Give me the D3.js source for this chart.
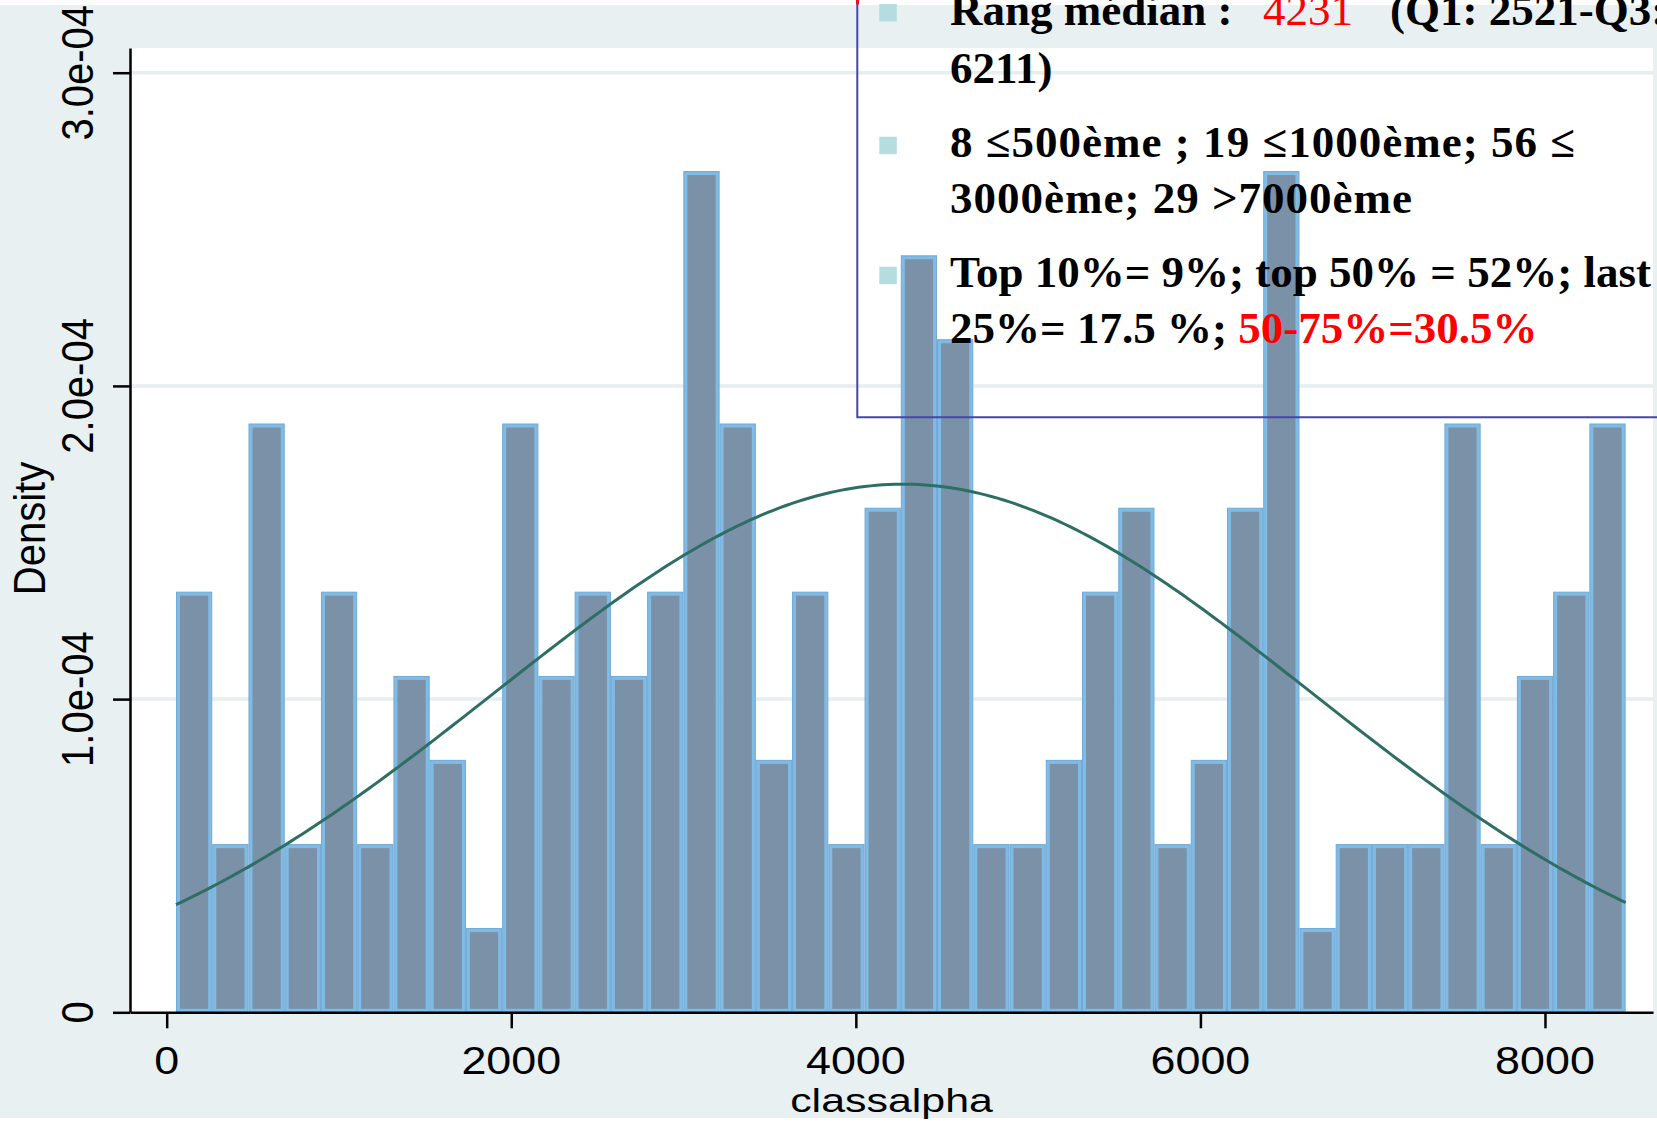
<!DOCTYPE html>
<html><head><meta charset="utf-8">
<script src="https://cdn.jsdelivr.net/npm/d3@7"></script>
<style>body{margin:0;background:#fff} svg{display:block}</style>
</head><body>
<script>
// ---- data ----
const binStart = 54;          // left edge of first bin (classalpha units)
const binWidth = 210.35;      // width of each bin
const densityE4 = [1.343,0.537,1.880,0.537,1.343,0.537,1.074,0.806,0.269,1.880,
  1.074,1.343,1.074,1.343,2.686,1.880,0.806,1.343,0.537,1.611,
  2.417,2.149,0.537,0.537,0.806,1.343,1.611,0.537,0.806,1.611,
  2.686,0.269,0.537,0.537,0.537,1.880,0.537,1.074,1.343,1.880]; // density ×1e-4
const normalMean = 4274, normalSD = 2366;   // overlaid normal density
const xTicks = [0, 2000, 4000, 6000, 8000];
const yTicks = [0, 1e-4, 2e-4, 3e-4];
const yTickLabels = ["0", "1.0e-04", "2.0e-04", "3.0e-04"];
const xTitle = "classalpha", yTitle = "Density";
const legendLines = [
  [{t:"Rang médian : ", c:"#000", w:"bold"}],
  [{t:"6211)", c:"#000", w:"bold"}],
  [{t:"8 ≤500ème ; 19 ≤1000ème; 56 ≤", c:"#000", w:"bold"}],
  [{t:"3000ème; 29 >7000ème", c:"#000", w:"bold"}],
  [{t:"Top 10%= 9%; top 50% = 52%; last", c:"#000", w:"bold"}],
  [{t:"25%= 17.5 %; ", c:"#000", w:"bold"}, {t:"50-75%=30.5%", c:"#ff0000", w:"bold"}]
];
const legendLineWidths = [null, null, 625, 462, null, null];

// ---- layout ----
const W = 1657, H = 1122;
const plot = {l:130, r:1653, t:48, b:1012.3};
const svg = d3.select("body").append("svg").attr("width", W).attr("height", H);
const sans = "'Liberation Sans', Arial, sans-serif";
const serif = "'Liberation Serif', 'Times New Roman', serif";

const x = d3.scaleLinear().domain([-213, 8627]).range([plot.l, plot.r]);
const y = d3.scaleLinear().domain([0, 3.0789e-4]).range([plot.b, plot.t]);

// backgrounds
svg.append("rect").attr("width", W).attr("height", H).attr("fill", "#fff");
svg.append("rect").attr("x",0).attr("y",5).attr("width", W).attr("height", 1113).attr("fill", "#e9f0f2");
svg.append("rect").attr("x", plot.l).attr("y", plot.t).attr("width", plot.r-plot.l).attr("height", plot.b-plot.t).attr("fill", "#fff");

// grid
svg.append("g").selectAll("line").data(yTicks.slice(1)).join("line")
  .attr("x1", plot.l).attr("x2", plot.r)
  .attr("y1", d => y(d)).attr("y2", d => y(d))
  .attr("stroke", "#e6eef0").attr("stroke-width", 3.5);

// bars
const bars = svg.append("g");
densityE4.forEach((d, i) => {
  const x0 = x(binStart + i*binWidth), x1 = x(binStart + (i+1)*binWidth);
  const yt = y(d*1e-4);
  bars.append("rect").attr("x", x0+0.5).attr("y", yt+0.5).attr("width", x1-x0-1).attr("height", plot.b-yt-0.5)
    .attr("fill", "#7fbbe5").attr("stroke", "#72a9d6").attr("stroke-width", 1);
  bars.append("rect").attr("x", x0+4).attr("y", yt+4).attr("width", x1-x0-8).attr("height", Math.max(0, plot.b-yt-7.5))
    .attr("fill", "#7b91a8");
});

// normal curve
const xEnd = binStart + densityE4.length*binWidth;
const pts = d3.range(0, 241).map(i => {
  const v = binStart + i*(xEnd-binStart)/240;
  const z = (v-normalMean)/normalSD;
  return [v, Math.exp(-0.5*z*z)/(normalSD*Math.sqrt(2*Math.PI))];
});
svg.append("path").datum(pts)
  .attr("d", d3.line().x(d => x(d[0])).y(d => y(d[1])))
  .attr("fill", "none").attr("stroke", "#2e6e64").attr("stroke-width", 3);

// axes
const gx = svg.append("g").attr("transform", `translate(0,${plot.b})`)
  .call(d3.axisBottom(x).tickValues(xTicks).tickSize(16).tickSizeOuter(0).tickFormat(""));
const gy = svg.append("g").attr("transform", `translate(${plot.l},0)`)
  .call(d3.axisLeft(y).tickValues(yTicks).tickSize(17).tickSizeOuter(0).tickFormat(""));
[gx, gy].forEach(g => {
  g.select(".domain").attr("stroke", "#000").attr("stroke-width", 2.5);
  g.selectAll(".tick line").attr("stroke", "#000").attr("stroke-width", 2.5);
});

// tick labels
svg.append("g").selectAll("text").data(xTicks).join("text")
  .attr("transform", d => `translate(${x(d)},1073.5) scale(1.15,1)`)
  .attr("text-anchor", "middle").attr("font-family", sans).attr("font-size", 39).attr("fill", "#000")
  .text(d => d);
svg.append("g").selectAll("text").data(yTicks).join("text")
  .attr("transform", d => `translate(93.3,${y(d)}) scale(1.1,1) rotate(-90)`)
  .attr("text-anchor", "middle").attr("font-family", sans).attr("font-size", 40).attr("fill", "#000")
  .text((d, i) => yTickLabels[i]);

// axis titles
svg.append("text").attr("transform", "translate(45,528.5) scale(1.1,1) rotate(-90)")
  .attr("text-anchor", "middle").attr("font-family", sans).attr("font-size", 40).text(yTitle);
svg.append("text").attr("transform", "translate(891.5,1111.5) scale(1.3,1)")
  .attr("text-anchor", "middle").attr("font-family", sans).attr("font-size", 33).text(xTitle);

// legend box (overlay)
svg.append("path").attr("d", "M857.3,0 V417.3 H1700").attr("fill", "none")
  .attr("stroke", "#4646aa").attr("stroke-width", 2);
svg.append("line").attr("x1", 857.5).attr("x2", 857.5).attr("y1", 0).attr("y2", 4.5)
  .attr("stroke", "#e8102a").attr("stroke-width", 3);

[4, 136.7, 266.7].forEach(yy => {
  svg.append("rect").attr("x", 879.3).attr("y", yy).attr("width", 17.5).attr("height", 17.5).attr("fill", "#b5dde0");
});

const baselines = [25, 82.7, 156.7, 213.3, 286.7, 343.3];
legendLines.forEach((parts, i) => {
  const t = svg.append("text").attr("x", 950).attr("y", baselines[i])
    .attr("font-family", serif).attr("font-size", 45);
  if (legendLineWidths[i]) t.attr("textLength", legendLineWidths[i]).attr("lengthAdjust", "spacing");
  parts.forEach(p => t.append("tspan").attr("fill", p.c).attr("font-weight", p.w).text(p.t));
});
svg.append("text").attr("x", 1263).attr("y", 25).attr("font-family", serif).attr("font-size", 45)
  .attr("fill", "#ff0000").text("4231");
svg.append("text").attr("x", 1390).attr("y", 25).attr("font-family", serif).attr("font-size", 45)
  .attr("font-weight", "bold").attr("fill", "#000").text("(Q1: 2521-Q3:");
</script>
</body></html>
